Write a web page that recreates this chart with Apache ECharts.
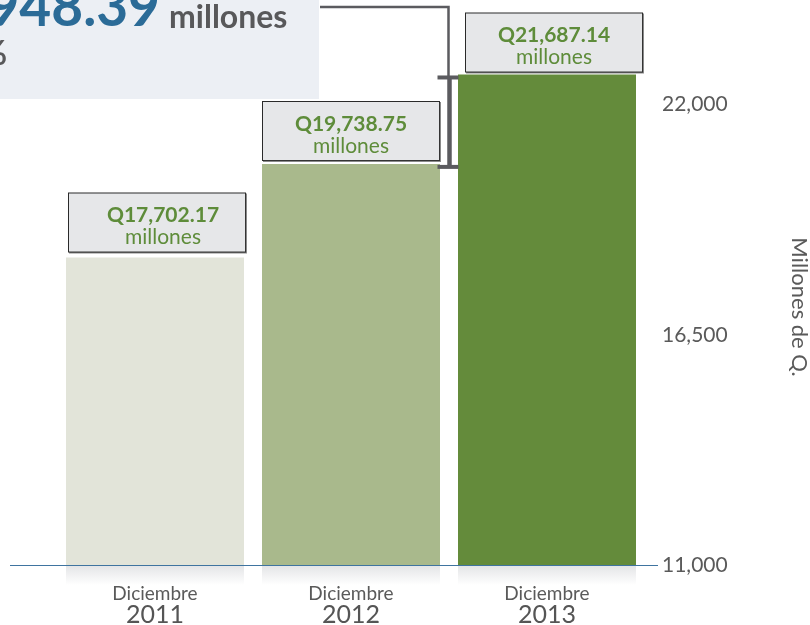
<!DOCTYPE html>
<html>
<head>
<meta charset="utf-8">
<script src="https://cdn.jsdelivr.net/npm/echarts@6/dist/echarts.min.js"></script>
<style>
  html, body { margin: 0; padding: 0; background: #fff; }
  #chart { width: 810px; height: 625px; }
</style>
</head>
<body>
<div id="chart"></div>
<script>
// data
const months = ['Diciembre', 'Diciembre', 'Diciembre'];
const years = ['2011', '2012', '2013'];
const saldo = [17702.17, 19738.75, 21687.14];
const saldoText = ['Q17,702.17', 'Q19,738.75', 'Q21,687.14'];
const tickValues = [11000, 16500, 22000];
const diffText = 'Q1,948.39';
const pctText = '9.87%';

const barColors = ['#e2e4d9', '#a9b98c', '#648b3b'];
const green = '#5e8c3a';
const gray = '#58585a';
const FONT = 'Lato';

const chart = echarts.init(document.getElementById('chart'));

// per-bar label tweaks (box placement)
const labelDistance = [6, 4, 3];
const labelPadding = [[10, 0, 4, 12], [10, 0, 4, 0], [10, 0, 4, 0]];
const labelWidth = [164, 176, 176];
const labelOffset = [[2, 0], [0, 0], [7, 0]];

const barData = saldo.map((v, i) => ({
  value: v,
  itemStyle: { color: barColors[i] },
  label: {
    distance: labelDistance[i],
    padding: labelPadding[i],
    width: labelWidth[i],
    offset: labelOffset[i],
    formatter: '{v|' + saldoText[i] + '}\n{m|millones}'
  }
}));

const option = {
  animation: false,
  textStyle: { fontFamily: FONT },
  grid: { left: 57, right: 165, top: 15, bottom: 60, outerBoundsMode: 'none', containLabel: false },
  xAxis: {
    type: 'category',
    data: years,
    axisLine: { show: false },
    axisTick: { show: false },
    axisLabel: {
      margin: 18,
      formatter: (val, idx) => '{d|' + months[idx] + '}\n{y|' + val + '}',
      rich: {
        d: { fontFamily: FONT, fontSize: 19, color: '#5a5a5a', lineHeight: 21, align: 'center' },
        y: { fontFamily: FONT, fontSize: 25, color: '#555', lineHeight: 22, align: 'center' }
      }
    }
  },
  yAxis: [
    {
      type: 'value', min: 11000, max: 22983, show: false
    },
    {
      type: 'value', position: 'right', min: 11000, max: 24139, interval: 5500,
      axisLine: { show: false }, axisTick: { show: false }, splitLine: { show: false },
      axisLabel: {
        margin: 17, fontSize: 21, color: '#5a5a5a', fontFamily: FONT,
        showMaxLabel: false,
        formatter: v => tickValues.includes(v) ? v.toLocaleString('en-US') : ''
      },
      name: 'Millones de Q.',
      nameLocation: 'middle',
      nameRotate: -90,
      nameGap: 143,
      nameTextStyle: { fontSize: 22, color: '#5a5a5a', fontFamily: FONT, padding: [0, 0, 0, 34] }
    }
  ],
  series: [{
    type: 'bar',
    yAxisIndex: 0,
    barWidth: 178,
    data: barData,
    label: {
      show: true,
      position: 'top',
      align: 'center',
      backgroundColor: '#e6e7e9',
      borderColor: '#2a2a2a',
      borderWidth: 1,
      shadowColor: 'rgba(60,60,60,0.6)',
      shadowOffsetX: 1,
      shadowOffsetY: 1,
      shadowBlur: 0,
      rich: {
        v: { fontFamily: FONT, fontSize: 21, fontWeight: 'bold', color: green, lineHeight: 24, align: 'center' },
        m: { fontFamily: FONT, fontSize: 21, color: green, lineHeight: 20, align: 'center' }
      }
    }
  }]
};

chart.setOption(option);

// annotations placed from the chart's own scales
const base = chart.convertToPixel({ yAxisIndex: 0 }, 11000);
const yTop = chart.convertToPixel({ yAxisIndex: 0 }, saldo[2]) + 3;
const yPrev = chart.convertToPixel({ yAxisIndex: 0 }, saldo[1]) + 3;
const xs = years.map((_, i) => chart.convertToPixel({ xAxisIndex: 0 }, i));
const bx = Math.round((xs[1] + xs[2]) / 2) + 0.5;
const half = 89;

const graphics = [];
xs.forEach(x => {
  graphics.push({
    type: 'rect',
    shape: { x: x - half, y: base, width: half * 2, height: 20 },
    style: {
      fill: new echarts.graphic.LinearGradient(0, 0, 0, 1, [
        { offset: 0, color: '#e3e4e6' },
        { offset: 1, color: 'rgba(255,255,255,1)' }
      ])
    },
    z: -10
  });
});
graphics.push(
  {
    type: 'line',
    shape: { x1: 10, y1: Math.round(base) + 0.5, x2: 658, y2: Math.round(base) + 0.5 },
    style: { stroke: '#3f74a0', lineWidth: 1 },
    z: 5
  },
  {
    type: 'rect',
    shape: { x: 0, y: 0, width: 319, height: 99 },
    style: { fill: '#eceff4' },
    z: -10
  },
  {
    type: 'text',
    x: 160, y: 36,
    style: {
      text: diffText, textAlign: 'right', textVerticalAlign: 'bottom',
      font: 'bold 55px ' + FONT, fill: '#2b6b97'
    },
    z: 2
  },
  {
    type: 'text',
    x: 169, y: 34,
    style: {
      text: 'millones', textAlign: 'left', textVerticalAlign: 'bottom',
      font: 'bold 32px ' + FONT, fill: gray
    },
    z: 2
  },
  {
    type: 'text',
    x: 7, y: 71,
    style: {
      text: pctText, textAlign: 'right', textVerticalAlign: 'bottom',
      font: 'bold 34px ' + FONT, fill: gray
    },
    z: 2
  },
  {
    type: 'polyline',
    shape: { points: [[320, 7], [bx - 1, 7], [bx - 1, yTop]] },
    style: { stroke: '#5b5b5f', lineWidth: 2.5, fill: null },
    z: 3
  },
  {
    type: 'line',
    shape: { x1: bx, y1: yTop, x2: bx, y2: yPrev },
    style: { stroke: '#5b5b5f', lineWidth: 4.5 },
    z: 3
  },
  {
    type: 'line',
    shape: { x1: bx - 12, y1: yTop, x2: bx + 9, y2: yTop },
    style: { stroke: '#5b5b5f', lineWidth: 4 },
    z: 3
  },
  {
    type: 'line',
    shape: { x1: bx - 12, y1: yPrev, x2: bx + 9, y2: yPrev },
    style: { stroke: '#5b5b5f', lineWidth: 4 },
    z: 3
  }
);
chart.setOption({ graphic: graphics });
</script>
</body>
</html>
